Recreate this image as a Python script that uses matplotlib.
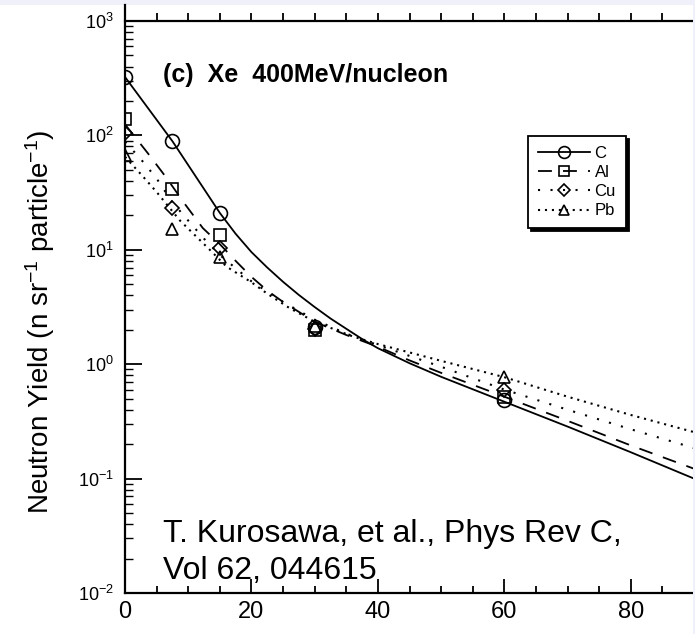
import numpy as np
import matplotlib
matplotlib.use('Agg')
from matplotlib import pyplot as plt
from matplotlib.patches import Rectangle

#Measured points (angle in deg, yield)
angles = [0, 7.5, 15, 30, 60]
C_pts = [324, 89, 21, 2.1, 0.49]
Al_pts = [139, 34, 13.5, 2.0, 0.52]
Cu_pts = [105, 23.2, 10.4, 2.05, 0.59]
Pb_pts = [68, 15.2, 8.6, 2.15, 0.77]

#Calculated curves
C_ang = [0, 5, 7.5, 10, 12.5, 15, 17.5, 20, 22.5, 25, 27.5, 30, 32.5, 35, 37.5, 40, 45, 50, 60, 70, 80, 90]
C_cal = [324, 137, 89, 55, 34, 21, 13.8, 9.55, 7.0, 5.25, 4.03, 3.16, 2.51, 2.04, 1.66, 1.38, 1.02, 0.776, 0.47, 0.285, 0.17, 0.1]
Al_ang = [0, 3.6, 6.5, 9.5, 12.3, 15, 17.5, 20, 22.5, 25, 30, 35, 40, 45, 50, 60, 70, 80, 90]
Al_cal = [125, 70, 43, 25, 15.5, 11.2, 8.0, 5.8, 4.4, 3.5, 2.35, 1.8, 1.42, 1.08, 0.84, 0.52, 0.32, 0.195, 0.122]
Cu_ang = [0, 2.5, 5, 7.5, 10, 12.5, 15, 20, 25, 30, 35, 40, 50, 60, 70, 80, 90]
Cu_cal = [88, 62, 42, 26, 18, 12.5, 9.0, 5.3, 3.5, 2.45, 1.85, 1.47, 0.95, 0.6, 0.4, 0.27, 0.185]
Pb_ang = [0, 1.6, 2.8, 5, 8.7, 13.1, 16.1, 20, 22.6, 26, 30, 36, 40, 50, 60, 70, 80, 90]
Pb_cal = [65, 52, 44, 32, 18, 10.4, 7.1, 5.2, 4.1, 3.1, 2.35, 1.75, 1.5, 1.07, 0.77, 0.52, 0.36, 0.255]

labels = ['C', 'Al', 'Cu', 'Pb']

plt.rcParams['font.family'] = 'Liberation Sans'
plt.rcParams['mathtext.fontset'] = 'custom'
plt.rcParams['mathtext.rm'] = 'Liberation Sans'
plt.rcParams['mathtext.it'] = 'Liberation Sans:italic'
plt.rcParams['mathtext.bf'] = 'Liberation Sans:bold'
plt.rcParams['lines.scale_dashes'] = False

W, H = 695, 634
fig = plt.figure(figsize=(W/100, H/100), dpi=100, facecolor='#f0f0fb')
#white scanned page on the lavender slide
fig.add_artist(Rectangle((0, 0), 693/W, 629/H, transform=fig.transFigure,
                         facecolor='white', edgecolor='none', zorder=-1))

ax = fig.add_axes([125/W, 41/H, 569/W, 572/H])
ax.patch.set_visible(False)
ax.set_yscale('log')

#Curves
lC, = ax.plot(C_ang, C_cal, color='k', lw=1.3, ls='-')
lAl, = ax.plot(Al_ang, Al_cal, color='k', lw=1.3, ls=(0, (10, 8)))
lCu, = ax.plot(Cu_ang, Cu_cal, color='k', lw=1.5, ls=(0, (1.5, 7.5)))
lPb, = ax.plot(Pb_ang, Pb_cal, color='k', lw=1.5, ls=(0, (1.5, 3.5)))

#Points
mk = dict(ls='none', mfc='none', mec='k', mew=1.2)
pC, = ax.plot(angles, C_pts, marker='o', ms=10, **mk)
pAl, = ax.plot(angles, Al_pts, marker='s', ms=9, **mk)
pCu, = ax.plot(angles, Cu_pts, marker='D', ms=7, **mk)
pPb, = ax.plot(angles, Pb_pts, marker='^', ms=9, **mk)

ax.set_xlim(0, 90)
ax.set_ylim(1e-2, 1e3)
ax.set_xticks(np.arange(0, 91, 20))
ax.set_xticks(np.arange(0, 91, 5), minor=True)

ax.tick_params(axis='x', which='major', direction='in', length=10, width=1.3, labelsize=17, pad=6, top=False)
ax.tick_params(axis='x', which='minor', direction='in', length=5, width=1.3, top=False)
ax.tick_params(axis='y', which='major', direction='in', length=12, width=1.3, labelsize=13, pad=8, right=False)
ax.tick_params(axis='y', which='minor', direction='in', length=6, width=1.0, right=False)

for s in ['top', 'right']:
    ax.spines[s].set_visible(False)
for s in ['left', 'bottom']:
    ax.spines[s].set_linewidth(1.6)
ax.spines['left'].set_bounds(1e-2, 10**3.14)

#top axis with outward ticks
top = ax.secondary_xaxis('top')
top.set_xticks(np.arange(0, 91, 5))
top.tick_params(direction='out', length=6, width=1.3, labeltop=False)
top.spines['top'].set_linewidth(1.6)

ax.set_ylabel('Neutron Yield (n sr$^{-1}$ particle$^{-1}$)', fontsize=20)
ax.yaxis.set_label_coords(-0.12, 0.474)

ax.text(0.067, 0.906, '(c)  Xe  400MeV/nucleon', transform=ax.transAxes,
        fontsize=18, fontweight='bold', va='center')
ax.text(0.067, 0.13, 'T. Kurosawa, et al., Phys Rev C,\nVol 62, 044615',
        transform=ax.transAxes, fontsize=23, va='top', linespacing=1.3)

leg = ax.legend([(lC, pC), (lAl, pAl), (lCu, pCu), (lPb, pPb)], labels,
                loc='upper left', bbox_to_anchor=(0.708, 0.799), borderaxespad=0,
                fancybox=False, edgecolor='k', framealpha=1,
                shadow={'color': 'k', 'alpha': 1},
                handlelength=3.1, numpoints=1, fontsize=12, markerscale=0.85,
                labelspacing=0.25, handletextpad=0.3, borderpad=0.6)
leg.get_frame().set_linewidth(1.3)

#lavender border strip on top of everything
fig.add_artist(Rectangle((693/W, 0), 2/W, 1, transform=fig.transFigure,
                         facecolor='#f0f0fb', edgecolor='none', zorder=10))

fig.savefig('out.png', dpi=100, facecolor=fig.get_facecolor())
